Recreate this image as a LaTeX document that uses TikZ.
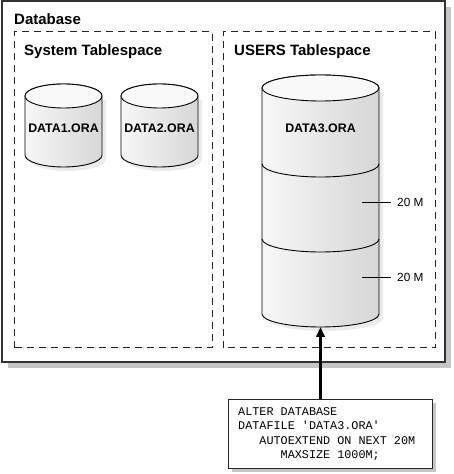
\documentclass[tikz,border=0pt]{standalone}
\usepackage{fontspec}
\setmainfont{Liberation Sans}
\newfontfamily\codefont{Liberation Mono}
\usetikzlibrary{arrows.meta}
\begin{document}
\begin{tikzpicture}[x=1pt,y=1pt,
  outerbox/.style={draw=black!80, line width=1.3pt, fill=white},
  shadowfill/.style={fill=gray!45, draw=none},
  tsbox/.style={draw=black!85, line width=1pt, dash pattern=on 7pt off 5pt},
  titletext/.style={font=\bfseries\fontsize{15}{17}\selectfont, anchor=west, inner sep=0},
  cylbody/.style={draw=black, line width=0.9pt, left color=gray!6, right color=gray!32},
  cyltop/.style={draw=black, line width=0.9pt, fill=gray!5},
  cylline/.style={draw=black, line width=0.9pt},
  cylshadow/.style={fill=gray!15, draw=none},
  dlabel/.style={font=\bfseries\fontsize{12.4}{14}\selectfont, inner sep=0},
  sizelabel/.style={font=\fontsize{11.8}{13}\selectfont, anchor=west, inner sep=0},
  tick/.style={draw=black, line width=0.7pt},
  codeline/.style={font=\codefont\fontsize{11.8}{14}\selectfont, anchor=base west, inner sep=0},
  codebox/.style={draw=black!85, line width=1.3pt, fill=white, minimum width=204pt, minimum height=69pt, inner sep=0, anchor=north west},
  bigarrow/.style={line width=2.2pt, -{Triangle[length=10pt,width=8.5pt]}}
]
\useasboundingbox (0,0) rectangle (454,474);

% outer database box
\fill[shadowfill] (8,106) rectangle (451,467);
\draw[outerbox] (2,112) rectangle (445,473);
\node[titletext] (dbtitle) at (14,455) {Database};

% tablespaces
\draw[tsbox] (14,126) rectangle (212,442);
\draw[tsbox] (223,126) rectangle (435,442);
\node[titletext] (systitle) at (24,422) {System Tablespace};
\node[titletext] (usrtitle) at (234,422) {USERS Tablespace};

% DATA1
\fill[cylshadow] (29,374) -- (29,315) arc[start angle=180,end angle=360,x radius=38.5,y radius=12] -- (106,374) -- cycle;
\draw[cylbody] (25,378) -- (25,319) arc[start angle=180,end angle=360,x radius=38.5,y radius=12] -- (102,378) arc[start angle=0,end angle=180,x radius=38.5,y radius=12] -- cycle;
\draw[cyltop] (63.5,378) ellipse[x radius=38.5, y radius=12];
\node[dlabel] (d1) at (63.5,346) {DATA1.ORA};

% DATA2
\fill[cylshadow] (125,374) -- (125,315) arc[start angle=180,end angle=360,x radius=38.5,y radius=12] -- (202,374) -- cycle;
\draw[cylbody] (121,378) -- (121,319) arc[start angle=180,end angle=360,x radius=38.5,y radius=12] -- (198,378) arc[start angle=0,end angle=180,x radius=38.5,y radius=12] -- cycle;
\draw[cyltop] (159.5,378) ellipse[x radius=38.5, y radius=12];
\node[dlabel] (d2) at (159.5,346) {DATA2.ORA};

% DATA3
\fill[cylshadow] (266,382) -- (266,156) arc[start angle=180,end angle=360,x radius=58.5,y radius=13] -- (383,382) -- cycle;
\draw[cylbody] (262,386) -- (262,160) arc[start angle=180,end angle=360,x radius=58.5,y radius=13] -- (379,386) arc[start angle=0,end angle=180,x radius=58.5,y radius=13] -- cycle;
\draw[cyltop] (320.5,386) ellipse[x radius=58.5, y radius=13];
\draw[cylline] (262,310) arc[start angle=180,end angle=360,x radius=58.5,y radius=13];
\draw[cylline] (262,235) arc[start angle=180,end angle=360,x radius=58.5,y radius=13];
\coordinate (c3bot) at (320.5,147);
\node[dlabel] (d3) at (320.5,346) {DATA3.ORA};

% size ticks
\coordinate (t1a) at (362,272);
\coordinate (t2a) at (362,197);
\node[sizelabel] (s1) at (397,272) {20 M};
\node[sizelabel] (s2) at (397,197) {20 M};
\draw[tick] (t1a) -- ([xshift=-6pt]s1.west);
\draw[tick] (t2a) -- ([xshift=-6pt]s2.west);

% code box
\fill[shadowfill] (232,2) rectangle (436,71);
\node[codebox] (code) at (228,75) {};
\node[codeline] (code1) at (238,58) {ALTER DATABASE};
\node[codeline] (code2) at (238,44) {DATAFILE 'DATA3.ORA'};
\node[codeline] (code3) at (238,29.5) {\ \ \ AUTOEXTEND ON NEXT 20M};
\node[codeline] (code4) at (238,15) {\ \ \ \ \ \ MAXSIZE 1000M;};

% arrow
\draw[bigarrow] (c3bot |- code.north) -- (c3bot);
\end{tikzpicture}
\end{document}
